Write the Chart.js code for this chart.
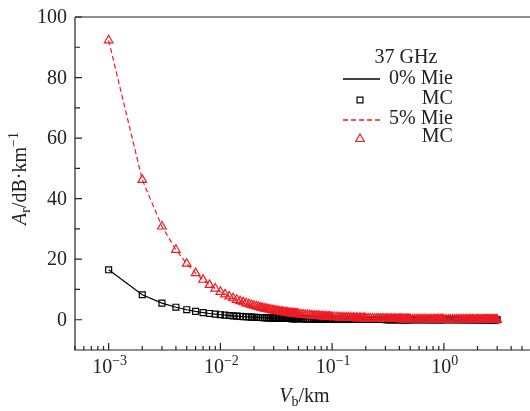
<!DOCTYPE html>
<html>
<head>
<meta charset="utf-8">
<script src="https://cdn.jsdelivr.net/npm/chart.js@4/dist/chart.umd.min.js"></script>
<style>
  body { margin: 0; background: #fff; }
  #wrap { width: 530px; height: 411px; }
</style>
</head>
<body>
<div id="wrap"><canvas id="c" width="530" height="411"></canvas></div>
<script>
// visibility Vb (km)
const vb = [
  0.001, 0.002, 0.003, 0.004, 0.005, 0.006, 0.007, 0.008, 0.009, 0.010,
  0.011, 0.012, 0.013, 0.014, 0.015, 0.016, 0.017, 0.018, 0.019, 0.020,
  0.021, 0.022, 0.023, 0.024, 0.025, 0.026, 0.027, 0.028, 0.029, 0.030,
  0.031, 0.032, 0.033, 0.034, 0.035, 0.036, 0.037, 0.038, 0.039, 0.040,
  0.041, 0.042, 0.043, 0.044, 0.045, 0.046, 0.047, 0.048, 0.049, 0.050,
  0.0525, 0.055, 0.0575, 0.060, 0.0625, 0.065, 0.0675, 0.070, 0.0725, 0.075,
  0.0775, 0.080, 0.0825, 0.085, 0.0875, 0.090, 0.0925, 0.095, 0.0975, 0.100,
  0.105, 0.11, 0.115, 0.12, 0.125, 0.13, 0.135, 0.14, 0.145, 0.15,
  0.155, 0.16, 0.165, 0.17, 0.175, 0.18, 0.185, 0.19, 0.195, 0.20,
  0.21, 0.22, 0.23, 0.24, 0.25, 0.26, 0.27, 0.28, 0.29, 0.30,
  0.31, 0.32, 0.33, 0.34, 0.35, 0.36, 0.37, 0.38, 0.39, 0.40,
  0.41, 0.42, 0.43, 0.44, 0.45, 0.46, 0.47, 0.48, 0.49, 0.50,
  0.525, 0.55, 0.575, 0.60, 0.625, 0.65, 0.675, 0.70, 0.725, 0.75,
  0.775, 0.80, 0.825, 0.85, 0.875, 0.90, 0.925, 0.95, 0.975, 1.0,
  1.05, 1.1, 1.15, 1.2, 1.25, 1.3, 1.35, 1.4, 1.45, 1.5,
  1.55, 1.6, 1.65, 1.7, 1.75, 1.8, 1.85, 1.9, 1.95, 2.0,
  2.05, 2.1, 2.15, 2.2, 2.25, 2.3, 2.35, 2.4, 2.45, 2.5,
  2.55, 2.6, 2.65, 2.7, 2.75, 2.8, 2.85, 2.9, 2.95, 3.0
];
// Ar (dB/km), 0% dust
const ar0 = [
  16.5, 8.25, 5.5, 4.13, 3.3, 2.75, 2.36, 2.06, 1.83, 1.65,
  1.5, 1.38, 1.27, 1.18, 1.1, 1.03, 0.97, 0.92, 0.87, 0.83,
  0.79, 0.75, 0.72, 0.69, 0.66, 0.63, 0.61, 0.59, 0.57, 0.55,
  0.53, 0.52, 0.5, 0.49, 0.47, 0.46, 0.45, 0.43, 0.42, 0.41,
  0.4, 0.39, 0.38, 0.38, 0.37, 0.36, 0.35, 0.34, 0.34, 0.33,
  0.31, 0.3, 0.29, 0.28, 0.26, 0.25, 0.24, 0.24, 0.23, 0.22,
  0.21, 0.21, 0.2, 0.19, 0.19, 0.18, 0.18, 0.17, 0.17, 0.17,
  0.16, 0.15, 0.14, 0.14, 0.13, 0.13, 0.12, 0.12, 0.11, 0.11,
  0.11, 0.1, 0.1, 0.1, 0.09, 0.09, 0.09, 0.09, 0.08, 0.08,
  0.079, 0.075, 0.072, 0.069, 0.066, 0.063, 0.061, 0.059, 0.057, 0.055,
  0.053, 0.052, 0.05, 0.049, 0.047, 0.046, 0.045, 0.043, 0.042, 0.041,
  0.04, 0.039, 0.038, 0.038, 0.037, 0.036, 0.035, 0.034, 0.034, 0.033,
  0.031, 0.03, 0.029, 0.028, 0.026, 0.025, 0.024, 0.024, 0.023, 0.022,
  0.021, 0.021, 0.02, 0.019, 0.019, 0.018, 0.018, 0.017, 0.017, 0.017,
  0.016, 0.015, 0.014, 0.014, 0.013, 0.013, 0.012, 0.012, 0.011, 0.011,
  0.011, 0.01, 0.01, 0.01, 0.009, 0.009, 0.009, 0.009, 0.008, 0.008,
  0.008, 0.008, 0.008, 0.008, 0.007, 0.007, 0.007, 0.007, 0.007, 0.007,
  0.006, 0.006, 0.006, 0.006, 0.006, 0.006, 0.006, 0.006, 0.006, 0.006
];
// Ar (dB/km), 5% dust
const ar5 = [
  92.3, 46.2, 30.8, 23.1, 18.5, 15.4, 13.2, 11.5, 10.3, 9.23,
  8.39, 7.69, 7.1, 6.59, 6.15, 5.77, 5.43, 5.13, 4.86, 4.62,
  4.4, 4.2, 4.01, 3.85, 3.69, 3.55, 3.42, 3.3, 3.18, 3.08,
  2.98, 2.88, 2.8, 2.71, 2.64, 2.56, 2.49, 2.43, 2.37, 2.31,
  2.25, 2.2, 2.15, 2.1, 2.05, 2.01, 1.96, 1.92, 1.88, 1.85,
  1.76, 1.68, 1.61, 1.54, 1.48, 1.42, 1.37, 1.32, 1.27, 1.23,
  1.19, 1.15, 1.12, 1.09, 1.05, 1.03, 1.0, 0.97, 0.95, 0.92,
  0.88, 0.84, 0.8, 0.77, 0.74, 0.71, 0.68, 0.66, 0.64, 0.62,
  0.6, 0.58, 0.56, 0.54, 0.53, 0.51, 0.5, 0.49, 0.47, 0.46,
  0.44, 0.42, 0.4, 0.38, 0.37, 0.36, 0.34, 0.33, 0.32, 0.31,
  0.3, 0.29, 0.28, 0.27, 0.26, 0.26, 0.25, 0.24, 0.24, 0.23,
  0.23, 0.22, 0.21, 0.21, 0.21, 0.2, 0.2, 0.19, 0.19, 0.18,
  0.18, 0.17, 0.16, 0.15, 0.15, 0.14, 0.14, 0.13, 0.13, 0.12,
  0.12, 0.12, 0.11, 0.11, 0.11, 0.1, 0.1, 0.1, 0.095, 0.092,
  0.088, 0.084, 0.08, 0.077, 0.074, 0.071, 0.068, 0.066, 0.064, 0.062,
  0.06, 0.058, 0.056, 0.054, 0.053, 0.051, 0.05, 0.049, 0.047, 0.046,
  0.045, 0.044, 0.043, 0.042, 0.041, 0.04, 0.039, 0.038, 0.038, 0.037,
  0.036, 0.036, 0.035, 0.034, 0.034, 0.033, 0.032, 0.032, 0.031, 0.031
];

const yTicks = [0, 20, 40, 60, 80, 100];
const yMinor = [10, 30, 50, 70, 90];
const xDecades = [-3, -2, -1, 0];
const legendTitle = '37 GHz';
const legendRows = ['0% Mie', 'MC', '5% Mie', 'MC'];

const RED = 'rgb(237,28,36)';
const INK = '#222';
const FONT = '"Liberation Serif", "Times New Roman", serif';

// text with raised/lowered small parts; returns width
function richText(ctx, parts, x, y, measureOnly) {
  let w = 0;
  parts.forEach(p => {
    ctx.font = (p.it ? 'italic ' : '') + (p.sz || 20) + 'px ' + FONT;
    if (!measureOnly) ctx.fillText(p.t, x + w, y + (p.dy || 0));
    w += ctx.measureText(p.t).width;
  });
  return w;
}

const frame = {
  id: 'frame',
  afterDatasetsDraw(chart) {
    const { ctx, chartArea: a, scales: { x, y } } = chart;
    ctx.save();
    ctx.strokeStyle = INK;
    ctx.fillStyle = INK;
    ctx.lineWidth = 1.2;
    ctx.beginPath();
    ctx.moveTo(a.left, a.top); ctx.lineTo(a.right, a.top);
    ctx.moveTo(a.left, a.top); ctx.lineTo(a.left, a.bottom); ctx.lineTo(a.right, a.bottom);
    ctx.stroke();

    // y ticks (inward)
    ctx.beginPath();
    yTicks.forEach(v => { const py = y.getPixelForValue(v); ctx.moveTo(a.left, py); ctx.lineTo(a.left + 7, py); });
    yMinor.forEach(v => { const py = y.getPixelForValue(v); ctx.moveTo(a.left, py); ctx.lineTo(a.left + 5, py); });
    // x ticks (inward), decades and 2..9 minors
    for (let d = -4; d <= 0; d++) {
      for (let m = 1; m <= 9; m++) {
        const v = m * Math.pow(10, d);
        if (v < x.min || v > x.max) continue;
        const px = x.getPixelForValue(v);
        ctx.moveTo(px, a.bottom);
        ctx.lineTo(px, a.bottom - (m === 1 ? 7 : 4));
      }
    }
    ctx.stroke();

    // y labels
    ctx.font = '20px ' + FONT;
    ctx.textAlign = 'right';
    ctx.textBaseline = 'middle';
    yTicks.forEach(v => ctx.fillText(String(v), a.left - 8, y.getPixelForValue(v) + 1));

    // x labels 10^n
    ctx.textAlign = 'left';
    ctx.textBaseline = 'alphabetic';
    xDecades.forEach(d => {
      const parts = [{ t: '10' }, { t: (d < 0 ? '\u2212' : '') + Math.abs(d), sz: 14, dy: -8 }];
      const w = richText(ctx, parts, 0, 0, true);
      richText(ctx, parts, x.getPixelForValue(Math.pow(10, d)) - w / 2 + 1, 373);
    });

    // x title
    const xt = [{ t: 'V', it: true }, { t: 'b', sz: 14, dy: 4 }, { t: '/km' }];
    const xw = richText(ctx, xt, 0, 0, true);
    richText(ctx, xt, (a.left + a.right) / 2 - xw / 2 + 2, 402);

    // y title (rotated)
    const yt = [{ t: 'A', it: true }, { t: 'r', sz: 14, dy: 4 }, { t: '/dB\u00b7km' }, { t: '\u22121', sz: 14, dy: -8 }];
    const yw = richText(ctx, yt, 0, 0, true);
    ctx.save();
    ctx.translate(26, (a.top + a.bottom) / 2 - 5);
    ctx.rotate(-Math.PI / 2);
    richText(ctx, yt, -yw / 2, 0);
    ctx.restore();

    // legend
    ctx.font = '20px ' + FONT;
    ctx.textAlign = 'center';
    ctx.fillText(legendTitle, 406, 63);
    ctx.textAlign = 'left';
    const mieW = ctx.measureText(legendRows[0]).width;
    const right = 389 + mieW;
    const rowY = [79, 100, 120, 139];
    ctx.strokeStyle = '#000'; ctx.lineWidth = 1.3;
    ctx.beginPath(); ctx.moveTo(343, rowY[0]); ctx.lineTo(380, rowY[0]); ctx.stroke();
    ctx.strokeStyle = RED; ctx.setLineDash([5, 3]);
    ctx.beginPath(); ctx.moveTo(343, rowY[2]); ctx.lineTo(381, rowY[2]); ctx.stroke();
    ctx.setLineDash([]);
    const ds = chart.data.datasets;
    ctx.fillStyle = 'rgba(0,0,0,0)';
    ctx.lineWidth = 1.2;
    ctx.strokeStyle = '#000';
    Chart.helpers.drawPoint(ctx, { pointStyle: 'rect', radius: ds[0].pointRadius, borderWidth: 1.2, rotation: 0 }, 360, rowY[1]);
    ctx.strokeStyle = RED;
    Chart.helpers.drawPoint(ctx, { pointStyle: 'triangle', radius: ds[1].pointRadius, borderWidth: 1.2, rotation: 0 }, 360, rowY[3]);
    ctx.fillStyle = INK;
    ctx.fillText(legendRows[0], 389, rowY[0] + 5);
    ctx.fillText(legendRows[2], 389, rowY[2] + 4);
    ctx.textAlign = 'right';
    ctx.fillText(legendRows[1], right, rowY[1] + 4);
    ctx.fillText(legendRows[3], right, rowY[3] + 3);
    ctx.restore();
  }
};

const pts = arr => vb.map((v, i) => ({ x: v, y: arr[i] }));

new Chart(document.getElementById('c').getContext('2d'), {
  type: 'scatter',
  data: {
    datasets: [
      {
        label: '0%', data: pts(ar0), showLine: true,
        borderColor: '#000', borderWidth: 1.2,
        pointStyle: 'rect', pointRadius: 4.2, pointBorderWidth: 1.2,
        pointBackgroundColor: 'rgba(255,255,255,0)', pointBorderColor: '#000',
        order: 2
      },
      {
        label: '5%', data: pts(ar5), showLine: true,
        borderColor: RED, borderWidth: 1.2, borderDash: [5, 3],
        pointStyle: 'triangle', pointRadius: 5, pointBorderWidth: 1.2,
        pointBackgroundColor: 'rgba(255,255,255,0)', pointBorderColor: RED,
        order: 1
      }
    ]
  },
  options: {
    responsive: false, animation: false,
    layout: { autoPadding: false, padding: { top: 17, right: 0, left: 0, bottom: 0 } },
    plugins: { legend: { display: false }, tooltip: { enabled: false } },
    scales: {
      x: {
        type: 'logarithmic', min: 5e-4, max: 5.9,
        ticks: { display: false }, grid: { display: false }, border: { display: false },
        afterFit: s => { s.height = 61; s.paddingLeft = 0; s.paddingRight = 0; }
      },
      y: {
        min: -10, max: 100,
        ticks: { display: false }, grid: { display: false }, border: { display: false },
        afterFit: s => { s.width = 75; }
      }
    }
  },
  plugins: [frame]
});
</script>
</body>
</html>
